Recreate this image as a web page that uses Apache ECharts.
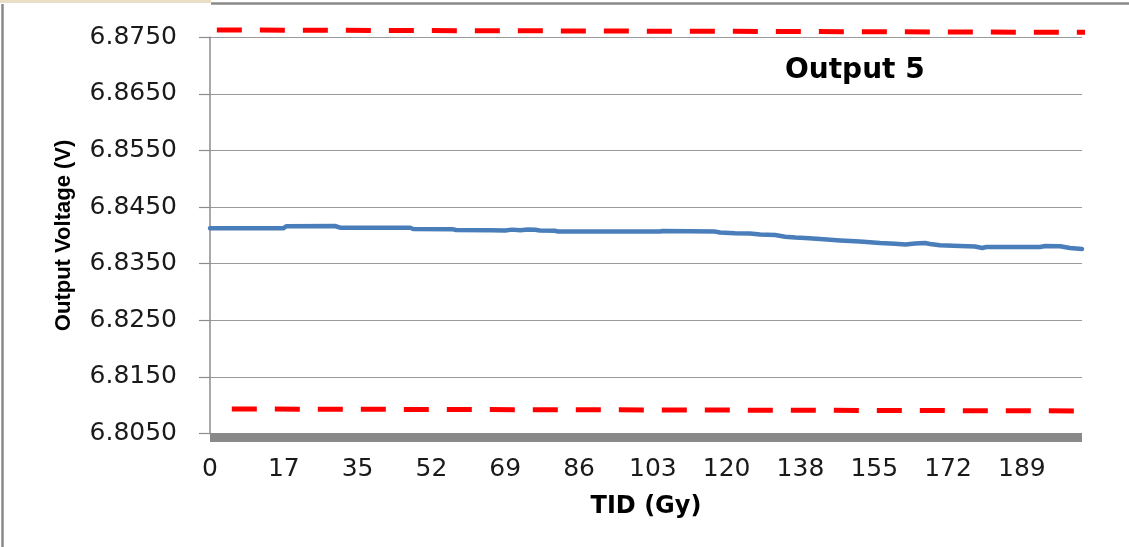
<!DOCTYPE html>
<html>
<head>
<meta charset="utf-8">
<title>Output 5 — Output Voltage vs TID</title>
<script src="https://cdn.jsdelivr.net/npm/echarts@6/dist/echarts.min.js"></script>
<style>
  html, body { margin: 0; padding: 0; background: #ffffff; }
  #chart { width: 1129px; height: 547px; }
</style>
</head>
<body>
<div id="chart"></div>
<script>
// TID axis tick labels (Gy), one label every TID_STEP
const tidTickLabels = ['0', '17', '35', '52', '69', '86', '103', '120', '138', '155', '172', '189'];
const TID_STEP = 17.25;
const TID_MAX = 203.8;

// Voltage axis range (V)
const voltMin = 6.805;
const voltMax = 6.875;
const voltStep = 0.01;

// Measured output voltage: TID (Gy)
const tid = [
  0, 17.1, 17.8, 29.2, 30.4, 46.8, 47.5, 56.6, 57.5, 65.5,
  69.0, 70.6, 72.5, 74.3, 76.0, 77.1, 80.6, 81.4, 105.2, 105.7,
  106.1, 118.1, 119.2, 122.7, 126.2, 128.6, 132.1, 134.4, 136.8, 139.1,
  142.6, 147.3, 151.9, 156.6, 160.1, 162.5, 164.8, 167.1, 168.3, 170.6,
  175.3, 178.8, 180.5, 181.4, 184.7, 194.0, 195.2, 198.7, 201.0, 203.8
];
// Measured output voltage: volts
const volts = [
  6.84125, 6.84125, 6.84161, 6.84166, 6.84136, 6.84136, 6.84113, 6.84110, 6.84095, 6.84090,
  6.84087, 6.84102, 6.84090, 6.84104, 6.84101, 6.84087, 6.84083, 6.84067, 6.84067, 6.84078,
  6.84067, 6.84067, 6.84051, 6.84039, 6.84034, 6.84016, 6.84007, 6.83977, 6.83963, 6.83954,
  6.83936, 6.83910, 6.83892, 6.83866, 6.83853, 6.83839, 6.83857, 6.83866, 6.83848, 6.83825,
  6.83813, 6.83804, 6.83777, 6.83795, 6.83795, 6.83795, 6.83813, 6.83807, 6.83777, 6.83760
];

// Specification limits (dashed red), drawn end to end: [TID, V]
const upperLimitTid = [1.6, 205.2];
const upperLimitV = [6.87629, 6.87588];
const lowerLimitTid = [5.1, 208.7];
const lowerLimitV = [6.80933, 6.80898];

const zip = (xs, ys) => xs.map((x, i) => [x, ys[i]]);

const chart = echarts.init(document.getElementById('chart'), null, { renderer: 'canvas' });

const labelFont = 'DejaVu Sans, Verdana, sans-serif';

const limitStyle = {
  color: '#ff0000',
  width: 5,
  type: [25, 18],
  cap: 'butt'
};

chart.setOption({
  animation: false,
  backgroundColor: '#ffffff',
  title: {
    text: 'Output 5',
    left: 780,
    top: 52,
    textStyle: {
      fontFamily: labelFont,
      fontWeight: 'bold',
      fontSize: 28,
      color: '#000000'
    }
  },
  grid: {
    left: 210,
    right: 47,
    top: 37.3,
    bottom: 113.5,
    containLabel: false
  },
  xAxis: {
    type: 'value',
    min: 0,
    max: TID_MAX,
    interval: TID_STEP,
    offset: 4,
    name: 'TID (Gy)',
    nameLocation: 'middle',
    nameGap: 57,
    nameTextStyle: {
      fontFamily: labelFont,
      fontWeight: 'bold',
      fontSize: 24,
      color: '#000000'
    },
    axisLine: { show: true, lineStyle: { color: '#898989', width: 9, cap: 'butt' } },
    axisTick: { show: false },
    splitLine: { show: false },
    axisLabel: {
      margin: 19,
      fontFamily: labelFont,
      fontSize: 25,
      color: '#1a1a1a',
      showMaxLabel: true,
      formatter: function (v) {
        const i = Math.round(v / TID_STEP);
        if (Math.abs(v - i * TID_STEP) > 1e-6 || i >= tidTickLabels.length) return '';
        return tidTickLabels[i];
      }
    }
  },
  yAxis: {
    type: 'value',
    min: voltMin,
    max: voltMax,
    interval: voltStep,
    name: 'Output Voltage (V)',
    nameLocation: 'middle',
    nameGap: 135,
    nameTextStyle: {
      fontFamily: 'Liberation Sans, Arial, sans-serif',
      fontWeight: 'bold',
      fontSize: 22,
      color: '#000000'
    },
    axisLine: { show: true, lineStyle: { color: '#8c8c8c', width: 1.5 } },
    axisTick: { show: true, inside: false, length: 11, lineStyle: { color: '#8c8c8c', width: 1.2 } },
    splitLine: { show: true, lineStyle: { color: '#9a9a9a', width: 1.2 } },
    axisLabel: {
      margin: 33,
      fontFamily: labelFont,
      fontSize: 25,
      color: '#1a1a1a',
      formatter: function (v) { return v.toFixed(4); }
    }
  },
  graphic: [
    // outer frame (left and top edges)
    { type: 'rect', shape: { x: 0, y: 0, width: 211, height: 3 }, style: { fill: '#eadfc4' }, silent: true },
    { type: 'line', shape: { x1: 2.5, y1: 4, x2: 2.5, y2: 547 }, style: { stroke: '#8a8a8a', lineWidth: 2.5 }, silent: true },
    { type: 'line', shape: { x1: 211, y1: 3.5, x2: 1129, y2: 3.5 }, style: { stroke: '#8a8a8a', lineWidth: 2.5 }, silent: true }
  ],
  series: [
    {
      name: 'Output 5',
      type: 'line',
      data: zip(tid, volts),
      symbol: 'none',
      smooth: false,
      lineStyle: { color: '#4a7ebb', width: 4.5, join: 'round', cap: 'round' },
      z: 3
    },
    {
      name: 'Upper limit',
      type: 'line',
      data: zip(upperLimitTid, upperLimitV),
      symbol: 'none',
      clip: false,
      lineStyle: limitStyle,
      z: 4
    },
    {
      name: 'Lower limit',
      type: 'line',
      data: zip(lowerLimitTid, lowerLimitV),
      symbol: 'none',
      clip: false,
      lineStyle: limitStyle,
      z: 4
    }
  ]
});
</script>
</body>
</html>
